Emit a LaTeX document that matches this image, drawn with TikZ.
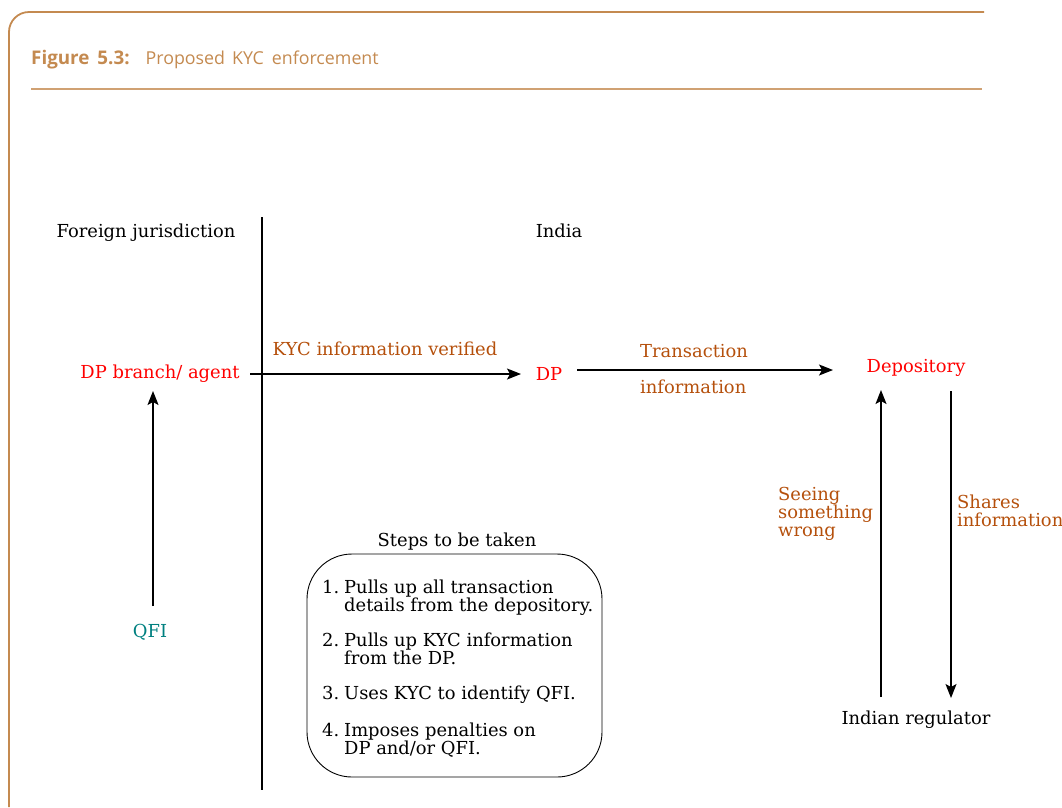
\documentclass[tikz,border=0pt]{standalone}
\usepackage{fontspec}
\setmainfont{DejaVu Serif}
\newfontfamily\titlefont{Open Sans}
\usetikzlibrary{arrows.meta}
\definecolor{frame}{HTML}{C48A50}
\definecolor{titlecol}{HTML}{C48A50}
\definecolor{lbl}{HTML}{B5500C}
\definecolor{qfi}{HTML}{008080}
\tikzset{
  txt/.style={font=\fontsize{17.9}{18}\selectfont, inner sep=0pt},
  redtxt/.style={txt, text=red},
  lbltxt/.style={txt, text=lbl, align=left},
  arr/.style={-{Stealth[length=14pt,width=11pt,inset=3pt]}, line width=1.3pt},
  plain/.style={line width=1.3pt},
}
\newcommand{\stepnum}[1]{\makebox[22pt][l]{#1}}
\begin{document}
\begin{tikzpicture}[x=1pt,y=-1pt]
\useasboundingbox (0,0) rectangle (1062,807);
% frame
\draw[frame, line width=1.8pt, rounded corners=20pt] (9,807) -- (9,12) -- (984,12);
\node[anchor=base west, inner sep=0pt, text=titlecol, font=\titlefont\fontsize{18.8}{22}\selectfont] (title) at (31,64)
  {\textbf{Figure\hspace{8pt}5.3:}\hspace{16pt}{\fontsize{17.8}{22}\selectfont Proposed\hspace{7pt}KYC\hspace{8pt}enforcement}};
\draw[frame!80, line width=1.4pt] (31,89) -- (982,89);
% divider
\draw[plain] (262,217) -- (262,790);
\node[txt] (fj) at (146,233) {Foreign jurisdiction};
\node[txt] (india) at (559,231) {India};
% nodes
\node[redtxt] (dpb) at (160,374) {DP branch/ agent};
\node[redtxt] (dp) at (549,374) {DP};
\node[redtxt] (dep) at (916,368) {Depository};
\node[txt, text=qfi] (qfi) at (150,632) {QFI};
\node[txt] (reg) at (916,720) {Indian regulator};
% connectors
\coordinate (a1) at (250,374); \coordinate (a2) at (521,374);
\draw[arr] (a1) -- (a2);
\node[lbltxt] (kyc) at (385,349) {KYC information verified};
\coordinate (b1) at (577,370); \coordinate (b2) at (833,370);
\draw[arr] (b1) -- (b2);
\node[lbltxt, anchor=west] (tr1) at (640,351) {Transaction};
\node[lbltxt, anchor=west] (tr2) at (640,387) {information};
\coordinate (q1) at (153,606); \coordinate (q2) at (153,391);
\draw[arr] (q1) -- (q2);
\coordinate (u1) at (881,697); \coordinate (u2) at (881,390);
\draw[arr] (u1) -- (u2);
\coordinate (d1) at (951,391); \coordinate (d2) at (951,698);
\draw[arr] (d1) -- (d2);
\node[lbltxt, anchor=north west] (see) at (778,487) {Seeing\\something\\wrong};
\node[lbltxt, anchor=north west] (share) at (957,495) {Shares\\information};
% steps
\node[txt] (stepsT) at (457,542) {Steps to be taken};
\draw[line width=0.9pt, rounded corners=45pt] (307,554) rectangle (602,777);
\node[txt, anchor=north west, align=left] (steps) at (322,580) {%
\stepnum{1.}Pulls up all transaction\\
\stepnum{}details from the depository.\\[17pt]
\stepnum{2.}Pulls up KYC information\\
\stepnum{}from the DP.\\[17pt]
\stepnum{3.}Uses KYC to identify QFI.\\[19pt]
\stepnum{4.}Imposes penalties on\\
\stepnum{}DP and/or QFI.};
\end{tikzpicture}
\end{document}
